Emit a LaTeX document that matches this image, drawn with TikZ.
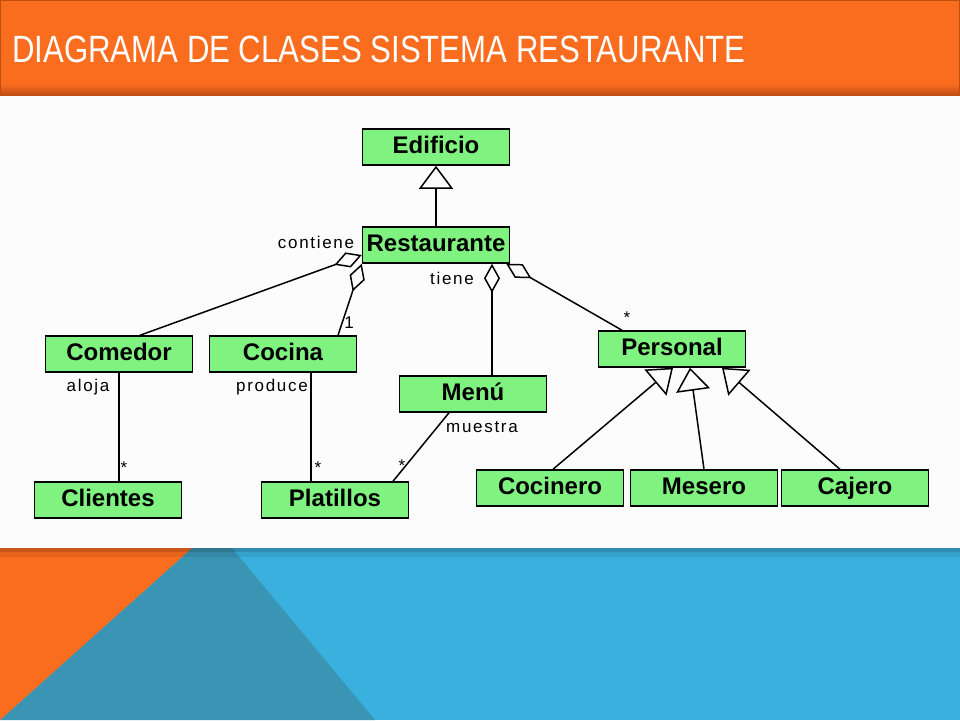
\documentclass[tikz,border=0pt]{standalone}
\usepackage{fontspec}
\setmainfont{Liberation Sans}
\usetikzlibrary{arrows.meta}

\definecolor{naranja}{RGB}{250,108,30}
\definecolor{naranjaosc}{RGB}{190,78,18}
\definecolor{celeste}{RGB}{58,176,222}
\definecolor{azulosc}{RGB}{58,149,181}
\definecolor{verde}{RGB}{128,242,128}

\tikzset{
    clase/.style ={
        rectangle,               % 类框
        minimum width  = 147pt,  % 最小宽度
        minimum height = 36pt,   % 最小高度
        inner sep = 3pt,         % 文字和边框的距离
        text height = 17pt,      % 文字高度
        text depth = 5pt,
        draw = black,            % 边框颜色
        line width = 1.5pt,
        fill = verde,            % 填充颜色
        font = \fontsize{24}{27}\selectfont\bfseries
    },
    etiq/.style = {
        inner sep = 0pt,
        font = \fontsize{17}{19}\selectfont\addfontfeature{LetterSpace=10}
    },
    linea/.style  = {line width = 1.5pt},
    hereda/.style = {linea, -{Triangle[open, length=23pt, width=34pt]}},
    agrega/.style = {linea, -{Diamond[open, length=29pt, width=16pt]}}
}

\begin{document}
\begin{tikzpicture}[x=1pt, y=-1pt]
    % 背景
    \useasboundingbox (0,0) rectangle (960,720);
    \fill[celeste] (0,0) rectangle (960,720);
    \fill[azulosc] (192,548) -- (232,548) -- (375,720) -- (0,720) -- cycle;
    \fill[naranja] (0,548) -- (192,548) -- (0,720) -- cycle;
    \fill[black, opacity=0.2] (0,548) rectangle (960,552);
    \fill[black, opacity=0.08] (0,552) rectangle (960,557);
    \fill[white!99!black] (0,95) rectangle (960,548);
    \fill[naranja] (0,0) rectangle (960,95);
    \shade[top color=naranja, bottom color=naranjaosc] (0,84) rectangle (960,95);
    \draw[naranjaosc, line width=2pt] (0,95) -- (0,0) -- (960,0) -- (960,95);
    \node[anchor=base west, text=white, inner sep=0pt, font=\fontsize{38}{40}\selectfont] (titulo) at (12,62)
        {\scalebox{0.82}[1]{DIAGRAMA DE CLASES SISTEMA RESTAURANTE}};

    % 类
    \node[clase] (edificio) at (436,147) {Edificio};
    \node[clase] (restaurante) at (436,245) {Restaurante};
    \node[clase] (comedor) at (119,354) {Comedor};
    \node[clase] (cocina) at (283,354) {Cocina};
    \node[clase] (menu) at (473,394) {Menú};
    \node[clase] (clientes) at (108,500) {Clientes};
    \node[clase] (platillos) at (335,500) {Platillos};
    \node[clase] (personal) at (672,349) {Personal};
    \node[clase] (cocinero) at (550,488) {Cocinero};
    \node[clase] (mesero) at (704,488) {Mesero};
    \node[clase] (cajero) at (855,488) {Cajero};

    % 连线
    \draw[hereda] (restaurante) -- (edificio);
    \draw[agrega] ([xshift=21pt]comedor.north) -- ([yshift=-10pt]restaurante.west);
    \draw[agrega] ([xshift=55pt]cocina.north) -- (restaurante.south west);
    \draw[agrega] ([xshift=19pt]menu.north) -- ([xshift=56pt]restaurante.south);
    \draw[agrega] ([xshift=-50pt]personal.north) -- ([xshift=-4pt]restaurante.south east);
    \coordinate (c1) at ([xshift=28pt]cocina.south);
    \draw[linea] (comedor.south) -- (comedor.south |- clientes.north);
    \draw[linea] (c1) -- (c1 |- platillos.north);
    \draw[linea] ([xshift=-24pt]menu.south) -- ([xshift=58pt]platillos.north);
    \draw[hereda] ([xshift=3pt]cocinero.north) -- ([xshift=1pt]personal.south);
    \draw[hereda] (mesero.north) -- ([xshift=18pt]personal.south);
    \draw[hereda] ([xshift=-15pt]cajero.north) -- ([xshift=50pt]personal.south);

    % 标签
    \node[etiq] (lcontiene) at (316,242) {contiene};
    \node[etiq] (luno) at (349,323) {1};
    \node[etiq] (ltiene) at (452,278) {tiene};
    \node[etiq] (lpersonal) at (627,318) {*};
    \node[etiq] (laloja) at (88,387) {aloja};
    \node[etiq] (lclientes) at (124,468) {*};
    \node[etiq] (lproduce) at (272,387) {produce};
    \node[etiq] (lplatillos) at (318,468) {*};
    \node[etiq] (lmuestra) at (482,427) {muestra};
    \node[etiq] (lmenu) at (402,466) {*};
\end{tikzpicture}
\end{document}
